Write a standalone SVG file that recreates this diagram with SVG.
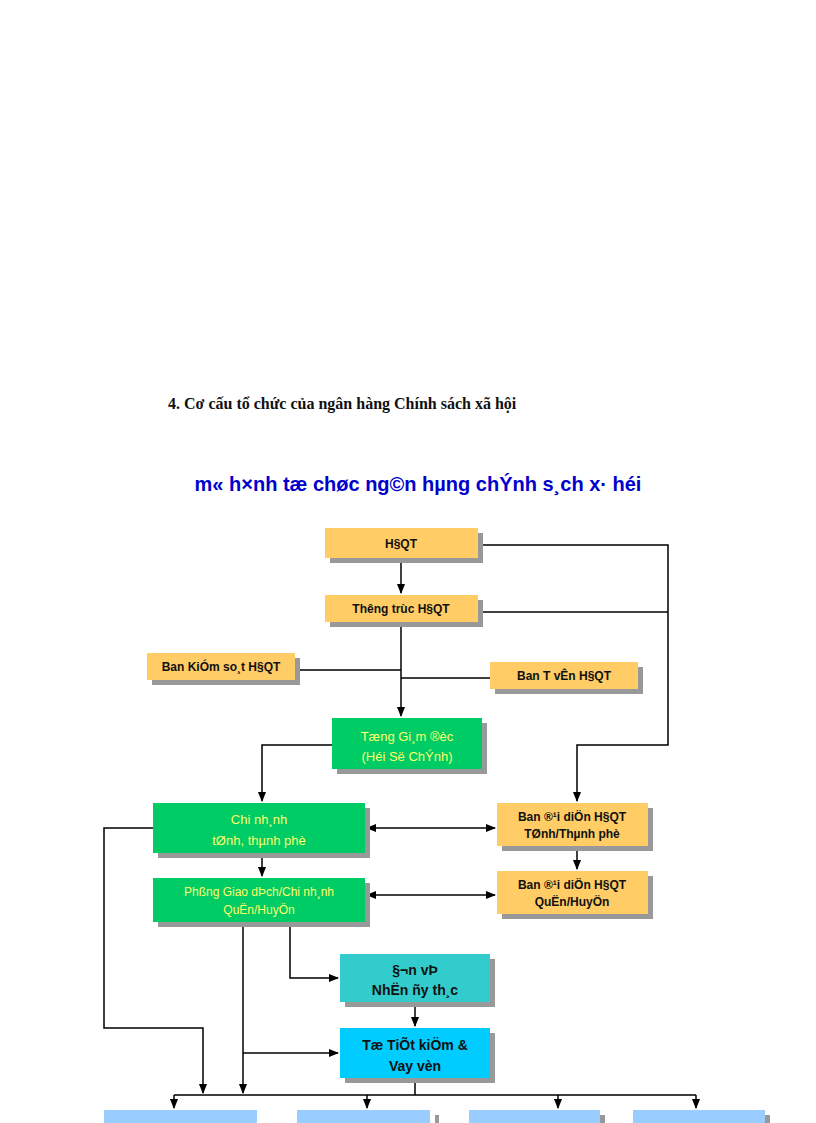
<svg xmlns="http://www.w3.org/2000/svg" width="816" height="1123" viewBox="0 0 816 1123">
<defs>
<marker id="a" viewBox="0 0 10 10" refX="9" refY="5" markerWidth="7" markerHeight="7" orient="auto-start-reverse"><path d="M0,1 L10,5 L0,9 z" fill="#000"/></marker>
<style>
.sh{fill:#999}
.o{fill:#ffcc66}.g{fill:#00cc66}.t{fill:#33cccc}.c{fill:#00ccff}.b{fill:#99ccff}
text{font-family:"Liberation Sans",Arial,sans-serif;font-weight:bold;font-size:12px;text-anchor:middle;fill:#111}
.y{fill:#ffff66;font-weight:normal;font-size:13px}
.l{fill:none;stroke:#000;stroke-width:1.5}
</style>
</defs>
<rect width="816" height="1123" fill="#fff"/>
<text x="168" y="409" style="font-family:'Liberation Serif',serif;font-size:16px;text-anchor:start">4. Cơ cấu tổ chức của ngân hàng Chính sách xã hội</text>
<text x="418" y="491" style="fill:#0000cc;font-size:20px">m« h×nh tæ chøc ng©n hµng chÝnh s¸ch x· héi</text>
<g id="connectors" class="l">
<path d="M478,545 H668 V745 H577 V801" marker-end="url(#a)"/>
<path d="M478,612 H668"/>
<path d="M401,558 V593" marker-end="url(#a)"/>
<path d="M401,622 V716" marker-end="url(#a)"/>
<path d="M295,670 H401 M490,678 H401"/>
<path d="M332,745 H262 V801" marker-end="url(#a)"/>
<path d="M367,828 H495" marker-start="url(#a)" marker-end="url(#a)"/>
<path d="M577,846 V869" marker-end="url(#a)"/>
<path d="M262,853 V876" marker-end="url(#a)"/>
<path d="M367,895 H495" marker-start="url(#a)" marker-end="url(#a)"/>
<path d="M153,828 H104 V1028 H203 V1093" marker-end="url(#a)"/>
<path d="M243,922 V1093" marker-end="url(#a)"/>
<path d="M243,1053 H338" marker-end="url(#a)"/>
<path d="M290,922 V978 H338" marker-end="url(#a)"/>
<path d="M415,1002 V1026" marker-end="url(#a)"/>
<path d="M415,1078 V1095 M174,1095 H696"/>
<path d="M174,1095 V1108" marker-end="url(#a)"/>
<path d="M367,1095 V1108" marker-end="url(#a)"/>
<path d="M558,1095 V1108" marker-end="url(#a)"/>
<path d="M696,1095 V1108" marker-end="url(#a)"/>
</g>
<g id="hdqt"><rect class="sh" x="330" y="533" width="153" height="30"/><rect class="o" x="325" y="528" width="153" height="30"/><text x="401" y="548">H§QT</text></g>
<g id="thuongtruc"><rect class="sh" x="330" y="600" width="153" height="27"/><rect class="o" x="325" y="595" width="153" height="27"/><text x="401" y="613">Th­êng trùc H§QT</text></g>
<g id="kiemsoat"><rect class="sh" x="152" y="658" width="148" height="27"/><rect class="o" x="147" y="653" width="148" height="27"/><text x="221" y="671">Ban KiÓm so¸t H§QT</text></g>
<g id="tuvan"><rect class="sh" x="495" y="667" width="148" height="27"/><rect class="o" x="490" y="662" width="148" height="27"/><text x="564" y="680">Ban T­ vÊn H§QT</text></g>
<g id="tgd"><rect class="sh" x="337" y="723" width="150" height="51"/><rect class="g" x="332" y="718" width="150" height="51"/><text class="y" x="407" y="741">Tæng Gi¸m ®èc</text><text class="y" x="407" y="761">(Héi Së ChÝnh)</text></g>
<g id="chinhanh"><rect class="sh" x="158" y="808" width="212" height="50"/><rect class="g" x="153" y="803" width="212" height="50"/><text class="y" x="259" y="824">Chi nh¸nh</text><text class="y" x="259" y="845">tØnh, thµnh phè</text></g>
<g id="bantinh"><rect class="sh" x="502" y="808" width="151" height="43"/><rect class="o" x="497" y="803" width="151" height="43"/><text x="572" y="821">Ban ®¹i diÖn H§QT</text><text x="572" y="838">TØnh/Thµnh phè</text></g>
<g id="pgd"><rect class="sh" x="158" y="883" width="212" height="44"/><rect class="g" x="153" y="878" width="212" height="44"/><text class="y" x="259" y="896" style="font-size:12px">Phßng Giao dÞch/Chi nh¸nh</text><text class="y" x="259" y="914" style="font-size:12px">QuËn/HuyÖn</text></g>
<g id="banhuyen"><rect class="sh" x="502" y="876" width="151" height="43"/><rect class="o" x="497" y="871" width="151" height="43"/><text x="572" y="889">Ban ®¹i diÖn H§QT</text><text x="572" y="906">QuËn/HuyÖn</text></g>
<g id="donvi"><rect class="sh" x="345" y="959" width="150" height="48"/><rect class="t" x="340" y="954" width="150" height="48"/><text x="415" y="975" style="font-size:14px">§¬n vÞ</text><text x="415" y="995" style="font-size:14px">NhËn ñy th¸c</text></g>
<g id="totk"><rect class="sh" x="345" y="1033" width="150" height="50"/><rect class="c" x="340" y="1028" width="150" height="50"/><text x="415" y="1050" style="font-size:14px">Tæ TiÕt kiÖm &amp;</text><text x="415" y="1071" style="font-size:14px">Vay vèn</text></g>
<g id="b1"><rect class="b" x="104" y="1110" width="153" height="13"/></g>
<g id="b2"><rect class="sh" x="435" y="1115" width="4" height="8"/><rect class="b" x="297" y="1110" width="133" height="13"/></g>
<g id="b3"><rect class="sh" x="600" y="1115" width="5" height="8"/><rect class="b" x="469" y="1110" width="131" height="13"/></g>
<g id="b4"><rect class="sh" x="765" y="1115" width="5" height="8"/><rect class="b" x="633" y="1110" width="132" height="13"/></g>
</svg>
